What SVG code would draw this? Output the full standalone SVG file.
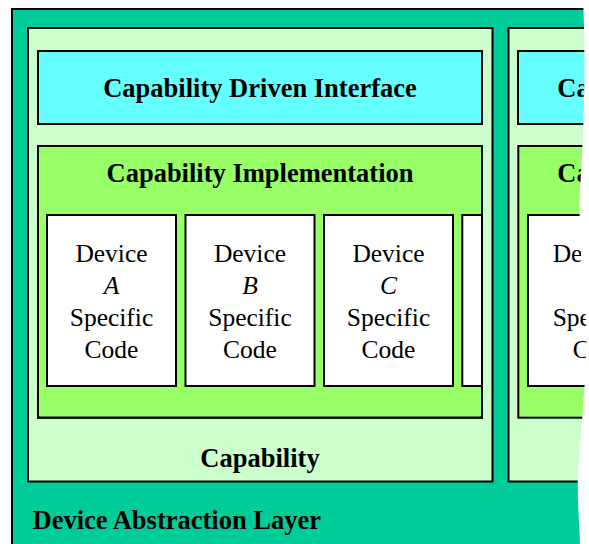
<svg xmlns="http://www.w3.org/2000/svg" width="589" height="544" viewBox="0 0 589 544">
  <style>
    .box { stroke: #000; stroke-width: 2; }
    .layer { fill: #00CC99; }
    .cap { fill: #CCFFCC; }
    .iface { fill: #66FFFF; }
    .impl { fill: #99FF66; }
    .dev { fill: #FFFFFF; }
    .title { font-family: "Liberation Serif", "Times New Roman", serif; font-weight: bold; font-size: 26.5px; fill: #000; }
    .code { font-family: "Liberation Serif", "Times New Roman", serif; font-size: 25.5px; fill: #000; text-anchor: middle; }
    .code .it { font-style: italic; }
    .frag { text-anchor: start; }
  </style>

  <defs>
    <clipPath id="impl-1-inner">
      <rect x="38" y="146" width="444" height="271.7"/>
    </clipPath>
  </defs>

  <!-- Device abstraction layer (outer) -->
  <g id="abstraction-layer">
    <rect class="box layer" x="12" y="9" width="600" height="560"/>
    <text class="title" x="32.5" y="528.5">Device Abstraction Layer</text>
  </g>

  <!-- First capability -->
  <g id="capability-1">
    <rect class="box cap" x="28" y="28" width="464.5" height="453.5"/>
    <text class="title" x="260" y="466.5" text-anchor="middle">Capability</text>
  </g>
  <g id="interface-1">
    <rect class="box iface" x="38" y="51" width="444" height="73"/>
    <text class="title" x="260" y="96.5" text-anchor="middle">Capability Driven Interface</text>
  </g>
  <g id="implementation-1">
    <rect class="box impl" x="38" y="146" width="444" height="271.7"/>
    <text class="title" x="260" y="181.5" text-anchor="middle">Capability Implementation</text>
  </g>
  <g id="device-a">
    <rect class="box dev" x="47" y="215" width="129" height="171"/>
    <text class="code" x="111.5"><tspan x="111.5" y="261.5">Device</tspan><tspan class="it" x="111.5" y="294">A</tspan><tspan x="111.5" y="326">Specific</tspan><tspan x="111.5" y="358">Code</tspan></text>
  </g>
  <g id="device-b">
    <rect class="box dev" x="185.5" y="215" width="129" height="171"/>
    <text class="code" x="250"><tspan x="250" y="261.5">Device</tspan><tspan class="it" x="250" y="294">B</tspan><tspan x="250" y="326">Specific</tspan><tspan x="250" y="358">Code</tspan></text>
  </g>
  <g id="device-c">
    <rect class="box dev" x="324" y="215" width="129" height="171"/>
    <text class="code" x="388.5"><tspan x="388.5" y="261.5">Device</tspan><tspan class="it" x="388.5" y="294">C</tspan><tspan x="388.5" y="326">Specific</tspan><tspan x="388.5" y="358">Code</tspan></text>
  </g>
  <g id="device-d" clip-path="url(#impl-1-inner)">
    <rect class="box dev" x="462.3" y="215" width="129" height="171"/>
  </g>
  <!-- implementation edge drawn again over the partly hidden device box -->
  <rect class="box" x="38" y="146" width="444" height="271.7" fill="none"/>

  <!-- Second capability, running off the right edge -->
  <g id="capability-2">
    <rect class="box cap" x="508.5" y="28" width="200" height="453.5"/>
  </g>
  <g id="interface-2">
    <rect class="box iface" x="518" y="51" width="200" height="73"/>
    <text class="title frag" x="557.3" y="96.5">Ca</text>
  </g>
  <g id="implementation-2">
    <rect class="box impl" x="518.3" y="146" width="200" height="271.7"/>
    <text class="title frag" x="557.3" y="181.5">Ca</text>
  </g>
  <g id="device-e">
    <rect class="box dev" x="528" y="215" width="129" height="171"/>
    <text class="code frag"><tspan x="552.7" y="261.5">De</tspan><tspan x="552.7" y="326">Spe</tspan><tspan x="572.7" y="358">C</tspan></text>
  </g>

  <!-- ragged cut along the right edge -->
  <path d="M583,0 C586,60 584,130 580,190 C578,230 583,280 586,320 C588,360 582,420 578,470 C577,505 580,530 580,544 L589,544 L589,0 Z" fill="#FFFFFF"/>
</svg>
